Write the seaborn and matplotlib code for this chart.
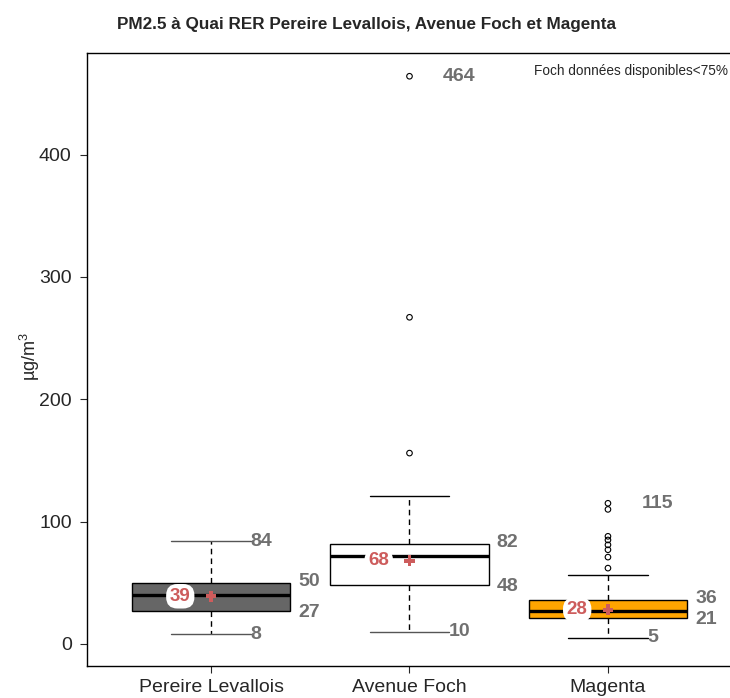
import numpy as np
import matplotlib
matplotlib.use('Agg')
import matplotlib.pyplot as plt
import seaborn as sns

## Data
stations  = ['Pereire Levallois', 'Avenue Foch', 'Magenta']
whislo    = [8, 10, 5]
q1        = [27, 48, 21]
med       = [40, 72, 27]
q3        = [50, 82, 36]
whishi    = [84, 121, 56]
means     = [39, 68, 28]
outliers  = [[], [156, 267, 464], [62, 71, 77, 81, 85, 88, 110, 115]]

box_colors = ['#666666', '#FFFFFF', '#FFA500']
red        = '#CD5C5C'
grey_txt   = '#707070'

## Style
sns.set_style('white')
plt.rcParams['font.family'] = ['Liberation Sans', 'DejaVu Sans']
plt.rcParams['mathtext.fontset'] = 'custom'
plt.rcParams['mathtext.rm'] = 'Liberation Sans'
plt.rcParams['mathtext.default'] = 'regular'

fig = plt.figure(figsize=(7.3, 6.98), dpi=100)
ax = fig.add_axes([87/730, 32/698, 644/730, 613/698])

pos = np.arange(len(stations))

## Boxes from summary statistics
stats = []
for i in range(len(stations)):
    stats.append(dict(label=stations[i], whislo=whislo[i], q1=q1[i], med=med[i],
                      q3=q3[i], whishi=whishi[i], fliers=[]))
bp = ax.bxp(stats, positions=pos, widths=0.8, patch_artist=True, showfliers=False,
            boxprops=dict(edgecolor='black', linewidth=1),
            medianprops=dict(color='black', linewidth=2.4),
            whiskerprops=dict(color='black', linestyle=(0, (4, 3)), linewidth=1),
            capprops=dict(color='black', linewidth=1))
for patch, c in zip(bp['boxes'], box_colors):
    patch.set_facecolor(c)
for cap in bp['caps'][0:3]:
    cap.set_color('#555555')

## Outliers
ox = [pos[i] for i in range(len(stations)) for v in outliers[i]]
oy = [v for i in range(len(stations)) for v in outliers[i]]
sns.scatterplot(x=ox, y=oy, ax=ax, marker='o', s=16, facecolor='none',
                edgecolor='black', linewidth=0.8, zorder=4)

## Means
sns.scatterplot(x=pos, y=means, ax=ax, marker='P', s=60, color=red,
                edgecolor='none', zorder=5)

## Value labels
fs = 14
for i in range(len(stations)):
    ax.text(pos[i] - 0.155, means[i], str(means[i]), color=red, fontsize=13.5,
            fontweight='bold', ha='center', va='center', zorder=6,
            bbox=dict(boxstyle='round,pad=0.2,rounding_size=0.6', fc='white', ec='none'))
    if len(outliers[i]) > 0:
        ax.text(pos[i] + 0.17, max(outliers[i]), str(max(outliers[i])), color=grey_txt,
                fontsize=fs, fontweight='bold', ha='left', va='center')
    else:
        ax.text(pos[i] + 0.2, whishi[i], str(whishi[i]), color=grey_txt, fontsize=fs,
                fontweight='bold', ha='left', va='center')
    ax.text(pos[i] + 0.2, whislo[i], str(whislo[i]), color=grey_txt, fontsize=fs,
            fontweight='bold', ha='left', va='center')
    ax.text(pos[i] + 0.44, q3[i] + 1, str(q3[i]), color=grey_txt, fontsize=fs,
            fontweight='bold', ha='left', va='center')
    ax.text(pos[i] + 0.44, q1[i] - 1, str(q1[i]), color=grey_txt, fontsize=fs,
            fontweight='bold', ha='left', va='center')

## Axes customization
ax.set_xlim(-0.625, 2.62)
ax.set_ylim(-18, 483)
ax.set_xticks(pos)
ax.set_xticklabels(stations, fontsize=14)
ax.set_yticks([0, 100, 200, 300, 400])
ax.tick_params(axis='y', labelsize=14, length=5, width=0.8, direction='out', left=True, pad=6)
ax.tick_params(axis='x', length=5, width=0.8, direction='out', bottom=True, pad=4)
for sp in ax.spines.values():
    sp.set_color('black')
    sp.set_linewidth(1)
ax.set_xlabel('')
ax.set_ylabel('')

fig.text(30/730, 1 - 356/698, 'µg/m$^{3}$', rotation=90, fontsize=13,
         ha='center', va='center')
fig.text(366/730, 1 - 25/698, 'PM2.5 à Quai RER Pereire Levallois, Avenue Foch et Magenta',
         fontsize=12.3, fontweight='bold', ha='center', va='center')
ax.text(0.995, 0.97, 'Foch données disponibles<75%', transform=ax.transAxes,
        fontsize=9.8, ha='right', va='center')

fig.savefig('out.png', dpi=100)
